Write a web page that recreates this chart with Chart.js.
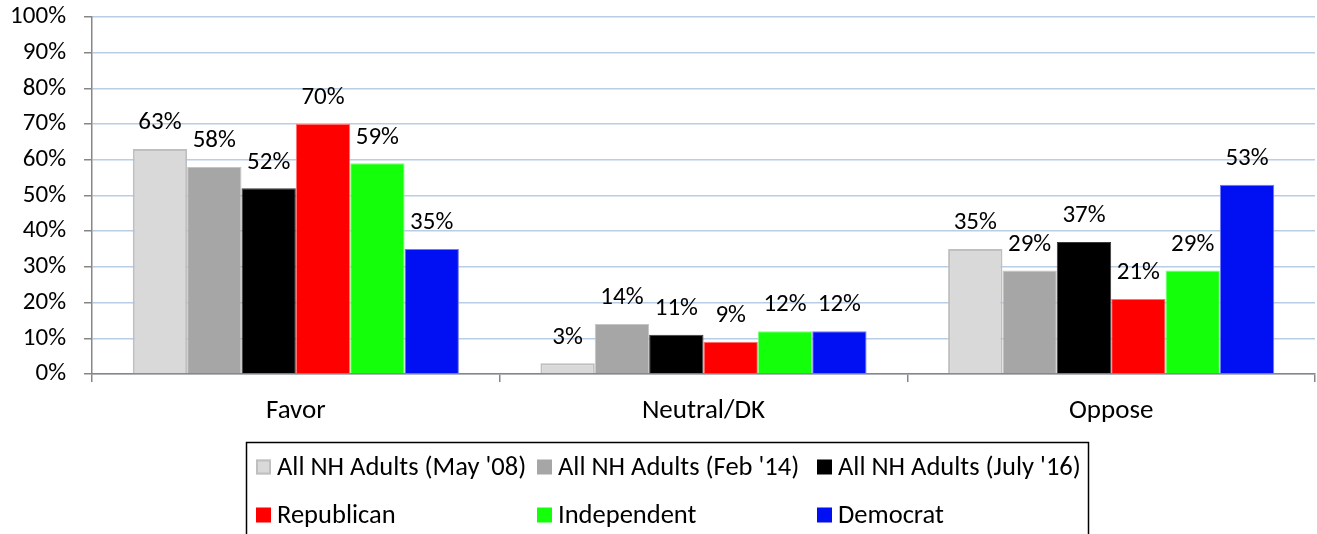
<!DOCTYPE html>
<html>
<head>
<meta charset="utf-8">
<title>Favor / Neutral / Oppose</title>
<script src="https://cdn.jsdelivr.net/npm/chart.js@4/dist/chart.umd.min.js"></script>
<style>
  html, body { margin: 0; padding: 0; background: #fff; }
  #wrap { width: 1317px; height: 534px; }
</style>
</head>
<body>
<div id="wrap"><canvas id="chart" width="1317" height="534"></canvas></div>
<script>
/******************************************************************
DATA
******************************************************************/
var categories = ["Favor", "Neutral/DK", "Oppose"];
var seriesNames = [
  "All NH Adults (May '08)",
  "All NH Adults (Feb '14)",
  "All NH Adults (July '16)",
  "Republican",
  "Independent",
  "Democrat"
];
var may08 = [63, 3, 35];
var feb14 = [58, 14, 29];
var july16 = [52, 11, 37];
var republican = [70, 9, 21];
var independent = [59, 12, 29];
var democrat = [35, 12, 53];
var yTickStep = 10;
var yMax = 100;

/******************************************************************
STYLE
******************************************************************/
var FONT = "Carlito, Lato, sans-serif";
var fills = ["#d9d9d9", "#a6a6a6", "#000000", "#ff0000", "#14ff0a", "#0010f2"];
var edges = ["#bfbfbf", "#c4c4c4", "#3a3a3a", "#ff7070", "#7dff78", "#6f78f7"];
var edgeWidths = [2, 1, 1, 1, 1, 1];
var allValues = [may08, feb14, july16, republican, independent, democrat];

var datasets = seriesNames.map(function (name, i) {
  return {
    label: name,
    data: allValues[i],
    backgroundColor: fills[i],
    borderColor: edges[i],
    borderWidth: edgeWidths[i],
    categoryPercentage: 0.8,
    barPercentage: 1.0
  };
});

// value labels above each bar
var valueLabels = {
  id: "valueLabels",
  afterDatasetsDraw: function (chart) {
    var ctx = chart.ctx;
    ctx.save();
    ctx.font = "25px " + FONT;
    ctx.fillStyle = "#000";
    ctx.textAlign = "center";
    ctx.textBaseline = "middle";
    chart.data.datasets.forEach(function (ds, i) {
      chart.getDatasetMeta(i).data.forEach(function (bar, j) {
        ctx.fillText(ds.data[j] + "%", bar.x, bar.y - 26);
      });
    });
    ctx.restore();
  }
};

// boxed legend, 3 columns x 2 rows
var boxLegend = {
  id: "boxLegend",
  afterDraw: function (chart) {
    var ctx = chart.ctx;
    var left = 246, top = 442, right = 1088;
    var colX = [256, 537, 817];
    var rowY = [467, 515];
    ctx.save();
    ctx.strokeStyle = "#000";
    ctx.lineWidth = 1.5;
    ctx.strokeRect(left + 0.5, top + 0.5, right - left, 120);
    ctx.font = "26.5px " + FONT;
    ctx.textBaseline = "middle";
    ctx.textAlign = "left";
    chart.data.datasets.forEach(function (ds, i) {
      var x = colX[i % 3];
      var y = rowY[Math.floor(i / 3)];
      ctx.fillStyle = ds.backgroundColor;
      ctx.fillRect(x, y - 7.5, 15, 15);
      if (i === 0) {
        ctx.strokeStyle = ds.borderColor;
        ctx.lineWidth = 2;
        ctx.strokeRect(x + 1, y - 6.5, 13, 13);
      }
      ctx.fillStyle = "#000";
      ctx.fillText(ds.label, x + 21, y + 1);
    });
    ctx.restore();
  }
};

var ctx = document.getElementById("chart").getContext("2d");
var chartHandle = new Chart(ctx, {
  type: "bar",
  data: { labels: categories, datasets: datasets },
  options: {
    responsive: false,
    animation: false,
    layout: { padding: { top: 17, right: 2, bottom: 110, left: 0 } },
    plugins: {
      legend: { display: false },
      tooltip: { enabled: false }
    },
    scales: {
      x: {
        afterFit: function (s) { s.height = 50; },
        grid: {
          offset: true,
          drawOnChartArea: false,
          tickLength: 8,
          tickColor: "#868686",
          lineWidth: 1.5
        },
        border: { color: "#868686", width: 1.5 },
        ticks: { color: "#000", font: { family: FONT, size: 27 }, padding: 13 }
      },
      y: {
        min: 0,
        max: yMax,
        afterFit: function (s) {
          s.width = 92;
          s.paddingTop = 17;
          s.paddingBottom = 0;
        },
        grid: {
          color: "#b9cde5",
          lineWidth: 1.5,
          tickLength: 8,
          tickColor: "#868686"
        },
        border: { color: "#868686", width: 1.5 },
        ticks: {
          stepSize: yTickStep,
          color: "#000",
          padding: 18,
          font: { family: FONT, size: 25 },
          callback: function (v) { return v + "%"; }
        }
      }
    }
  },
  plugins: [valueLabels, boxLegend]
});
</script>
</body>
</html>
